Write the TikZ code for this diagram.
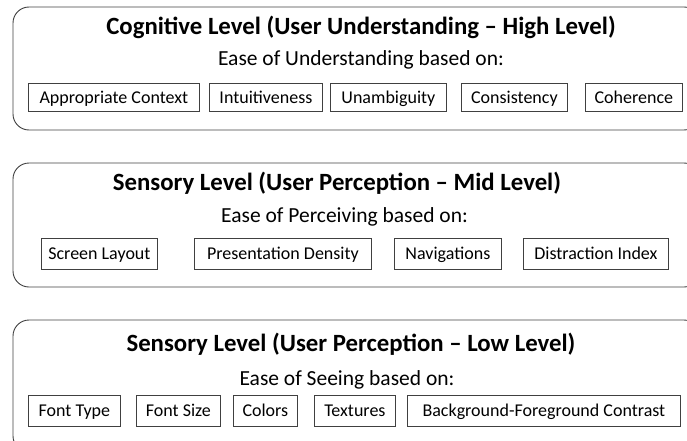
\documentclass[tikz,border=0pt]{standalone}
\usepackage{fontspec}
\setmainfont{Carlito}
\begin{document}
\begin{tikzpicture}[x=1pt,y=-1pt,line cap=round,
	level/.style={draw=black!75,line width=0.9pt,rounded corners=16pt},
	title/.style={font=\fontsize{24.8}{28}\selectfont\bfseries,inner sep=0pt,anchor=base},
	sub/.style={font=\fontsize{21.5}{25}\selectfont,inner sep=0pt,anchor=base},
	item/.style={draw=black!75,line width=0.8pt,font=\fontsize{18}{21}\selectfont,inner sep=0pt,
		text height=13pt,text depth=1pt,anchor=west}]
	\clip (0,0) rectangle (687,441);
	%% High level
	\draw[level] (13,7) rectangle (700,130);
	\node[title] (hightitle) at (361,35) {Cognitive Level (User Understanding -- High Level)};
	\node[sub] (highsub) at (361,66) {Ease of Understanding based on:};
	\node[item,minimum width=171pt,minimum height=28pt] (context) at (28,97) {Appropriate Context};
	\node[item,minimum width=113pt,minimum height=28pt] (intuit) at (209,97) {Intuitiveness};
	\node[item,minimum width=116pt,minimum height=28pt] (unamb) at (330,97) {Unambiguity};
	\node[item,minimum width=106pt,minimum height=28pt] (consist) at (461,97) {Consistency};
	\node[item,minimum width=97pt,minimum height=28pt] (coher) at (585,97) {Coherence};
	%% Mid level
	\draw[level] (13,163) rectangle (700,287);
	\node[title] (midtitle) at (337,190) {Sensory Level (User Perception -- Mid Level)};
	\node[sub] (midsub) at (344.5,222) {Ease of Perceiving based on:};
	\node[item,minimum width=116pt,minimum height=31pt] (layout) at (41,253.5) {Screen Layout};
	\node[item,minimum width=177pt,minimum height=31pt] (density) at (194,253.5) {Presentation Density};
	\node[item,minimum width=107pt,minimum height=31pt] (navig) at (394,253.5) {Navigations};
	\node[item,minimum width=145pt,minimum height=31pt] (distract) at (523,253.5) {Distraction Index};
	%% Low level
	\draw[level] (13,320) rectangle (700,452);
	\node[title] (lowtitle) at (351,351) {Sensory Level (User Perception -- Low Level)};
	\node[sub] (lowsub) at (347,385) {Ease of Seeing based on:};
	\node[item,minimum width=92pt,minimum height=31pt] (ftype) at (28,410.5) {Font Type};
	\node[item,minimum width=84pt,minimum height=31pt] (fsize) at (136,410.5) {Font Size};
	\node[item,minimum width=64pt,minimum height=31pt] (colors) at (233,410.5) {Colors};
	\node[item,minimum width=81pt,minimum height=31pt] (textures) at (314,410.5) {Textures};
	\node[item,minimum width=273pt,minimum height=31pt] (contrast) at (407,410.5) {Background-Foreground Contrast};
\end{tikzpicture}
\end{document}
